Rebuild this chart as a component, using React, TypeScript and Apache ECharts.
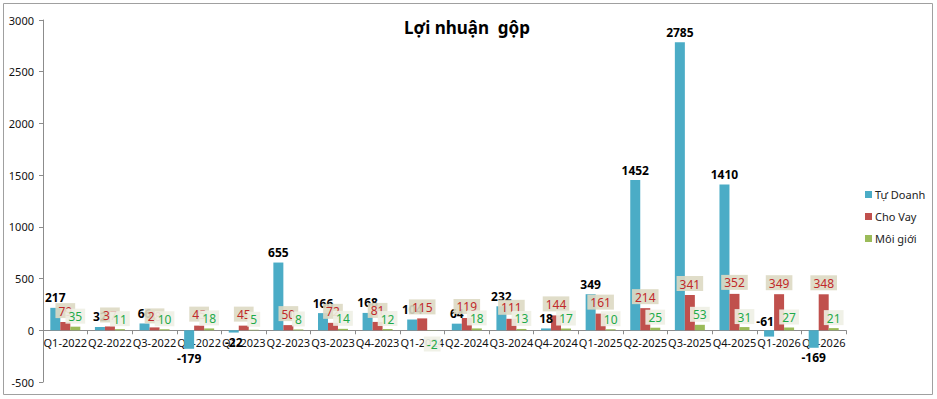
import React, { useEffect, useRef } from "react";
import * as echarts from "echarts";

// Quarterly gross profit by business line
const categories = [
  "Q1-2022", "Q2-2022", "Q3-2022", "Q4-2022",
  "Q1-2023", "Q2-2023", "Q3-2023", "Q4-2023",
  "Q1-2024", "Q2-2024", "Q3-2024", "Q4-2024",
  "Q1-2025", "Q2-2025", "Q3-2025", "Q4-2025",
  "Q1-2026", "Q2-2026",
];
const tuDoanh = [217, 32, 66, -179, -22, 655, 166, 168, 104, 64, 232, 18, 349, 1452, 2785, 1410, -61, -169];
const choVay = [79, 37, 28, 45, 45, 50, 72, 81, 115, 119, 111, 144, 161, 214, 341, 352, 349, 348];
const moiGioi = [35, 11, 10, 18, 5, 8, 14, 12, -2, 18, 13, 17, 10, 25, 53, 31, 27, 21];
const yTicks = { min: -500, max: 3000, interval: 500 };

const FONT = "'Noto Sans', 'DejaVu Sans', sans-serif";

export default function App() {
  const ref = useRef<HTMLDivElement>(null);

  useEffect(() => {
    if (!ref.current) return;
    const chart = echarts.init(ref.current, undefined, { renderer: "svg" });

    const blueData = tuDoanh.map((v, i) => {
      if (v >= 0) return v;
      // the small loss in Q1-2026 keeps its label above the axis
      if (categories[i] === "Q1-2026") {
        return { value: v, label: { position: "top", distance: 3, offset: [-4, 0] } };
      }
      return { value: v, label: { position: "bottom", distance: 4 } };
    });

    const greenData = moiGioi.map((v) =>
      v >= 0 ? v : { value: v, label: { position: "bottom", distance: 6 } }
    );

    // distance (px) between the plot's lower edge and the zero line,
    // used to pull the category labels up under the zero axis
    const plotTop = 20;
    const plotBottom = 382;
    const zeroOffset =
      ((plotBottom - plotTop) * (0 - yTicks.min)) / (yTicks.max - yTicks.min);

    chart.setOption({
      animation: false,
      backgroundColor: "#ffffff",
      title: {
        text: "Lợi nhuận  gộp",
        left: 462,
        top: 14,
        textAlign: "center",
        textStyle: { fontFamily: FONT, fontSize: 17, fontWeight: "bold", color: "#000" },
      },
      legend: {
        orient: "vertical",
        left: 860,
        top: 184,
        itemWidth: 7,
        itemHeight: 7,
        itemGap: 11,
        icon: "rect",
        textStyle: { fontFamily: FONT, fontSize: 11, color: "#222", padding: [0, 0, 0, -2] },
        data: ["Tự Doanh", "Cho Vay", "Môi giới"],
      },
      grid: { left: 43, right: 91, top: plotTop, bottom: 399 - plotBottom, containLabel: false },
      xAxis: {
        type: "category",
        data: categories,
        axisLine: { onZero: true, lineStyle: { color: "#8c8c8c" } },
        axisTick: { show: true, alignWithLabel: false, length: 4, lineStyle: { color: "#8c8c8c" } },
        axisLabel: {
          interval: 0,
          fontFamily: FONT,
          fontSize: 11,
          color: "#111",
          margin: 7 - zeroOffset,
        },
        splitLine: { show: false },
      },
      yAxis: {
        type: "value",
        min: yTicks.min,
        max: yTicks.max,
        interval: yTicks.interval,
        axisLine: { show: true, lineStyle: { color: "#8c8c8c" } },
        axisTick: { show: true, inside: false, length: 4, lineStyle: { color: "#8c8c8c" } },
        axisLabel: {
          fontFamily: FONT,
          fontSize: 11,
          color: "#111",
          margin: 9,
          formatter: (v: number) => String(v),
        },
        splitLine: { show: false },
      },
      series: [
        {
          name: "Tự Doanh",
          type: "bar",
          barWidth: 10,
          barGap: "0%",
          data: blueData,
          itemStyle: { color: "#4BACC6" },
          label: {
            show: true,
            position: "top",
            distance: 4,
            fontFamily: FONT,
            fontSize: 12,
            fontWeight: "bold",
            color: "#000",
          },
        },
        {
          name: "Cho Vay",
          type: "bar",
          barWidth: 10,
          barGap: "0%",
          data: choVay,
          itemStyle: { color: "#C0504D" },
          label: {
            show: true,
            position: "top",
            distance: 4,
            fontFamily: FONT,
            fontSize: 12,
            color: "#C0282A",
            backgroundColor: "rgba(221,217,195,0.9)",
            padding: [2, 3, 1, 3],
          },
        },
        {
          name: "Môi giới",
          type: "bar",
          barWidth: 10,
          barGap: "0%",
          data: greenData,
          itemStyle: { color: "#9BBB59" },
          label: {
            show: true,
            position: "top",
            distance: 3,
            fontFamily: FONT,
            fontSize: 12,
            color: "#1EAA4A",
            backgroundColor: "rgba(238,240,228,0.9)",
            padding: [2, 3, 1, 3],
          },
        },
      ],
      graphic: [
        {
          type: "rect",
          shape: { x: 3.5, y: 3.5, width: 929, height: 391 },
          style: { fill: "none", stroke: "#a0a0a0", lineWidth: 1 },
          silent: true,
          z: 100,
        },
      ],
    });

    return () => chart.dispose();
  }, []);

  return (
    <div
      ref={ref}
      style={{ position: "fixed", left: 0, top: 0, width: 937, height: 399 }}
    />
  );
}
